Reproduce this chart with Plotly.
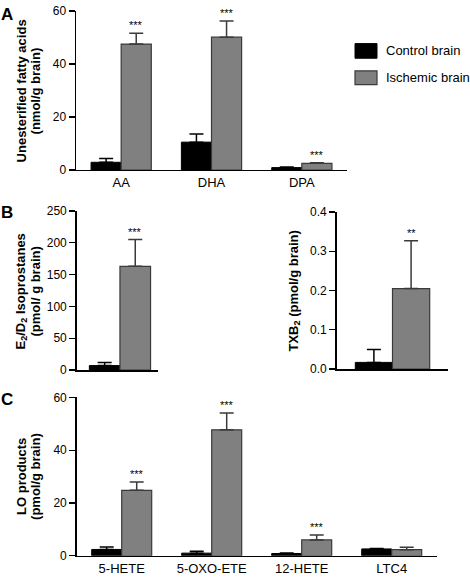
import plotly.graph_objects as go

W, H = 470, 582
FONT = "Liberation Sans, Arial, Helvetica, sans-serif"

# ---- data ----
fa_cats = ["AA", "DHA", "DPA"]
fa_control = [2.9, 10.5, 0.9]
fa_control_err = [1.4, 3.1, 0.2]
fa_isch = [47.5, 50.1, 2.5]
fa_isch_err = [4.1, 6.1, 0.2]
fa_sig = ["***", "***", "***"]

iso_cats = ["E2/D2"]
iso_control = [7.0]
iso_control_err = [5.0]
iso_isch = [163.0]
iso_isch_err = [42.0]
iso_sig = ["***"]

txb_cats = ["TXB2"]
txb_control = [0.017]
txb_control_err = [0.033]
txb_isch = [0.205]
txb_isch_err = [0.122]
txb_sig = ["**"]

lo_cats = ["5-HETE", "5-OXO-ETE", "12-HETE", "LTC4"]
lo_control = [2.4, 1.0, 0.85, 2.6]
lo_control_err = [0.9, 0.7, 0.2, 0.2]
lo_isch = [24.8, 47.7, 6.0, 2.3]
lo_isch_err = [3.1, 6.4, 1.9, 0.9]
lo_sig = ["***", "***", "***", ""]

CTRL_COLOR = "#000000"
ISCH_COLOR = "#808080"
ISCH_EDGE = "#3a3a3a"


def px_x(a, b):
    return [a / W, b / W]


def px_y(top, bottom):
    return [1 - bottom / H, 1 - top / H]


fig = go.Figure()


def add_pair(cats, c, ce, i, ie, xa, ya, offsets=None):
    kw_c, kw_i = {}, {}
    if offsets:
        kw_c = dict(offset=offsets[0], width=offsets[1])
        kw_i = dict(offset=offsets[2], width=offsets[3])
    fig.add_trace(go.Bar(
        x=cats, y=c, xaxis=xa, yaxis=ya, showlegend=False, name="Control brain",
        marker=dict(color=CTRL_COLOR, line=dict(color="#000000", width=1)),
        error_y=dict(type="data", array=ce, arrayminus=[0] * len(ce), symmetric=False,
                     color="#000000", thickness=1.5, width=7),
        **kw_c))
    fig.add_trace(go.Bar(
        x=cats, y=i, xaxis=xa, yaxis=ya, showlegend=False, name="Ischemic brain",
        marker=dict(color=ISCH_COLOR, line=dict(color=ISCH_EDGE, width=1.2)),
        error_y=dict(type="data", array=ie, arrayminus=[0] * len(ie), symmetric=False,
                     color=ISCH_EDGE, thickness=1.5, width=7),
        **kw_i))


add_pair(fa_cats, fa_control, fa_control_err, fa_isch, fa_isch_err, "x", "y")
add_pair(iso_cats, iso_control, iso_control_err, iso_isch, iso_isch_err, "x2", "y2",
         offsets=(-0.345, 0.375, 0.03, 0.375))
add_pair(txb_cats, txb_control, txb_control_err, txb_isch, txb_isch_err, "x3", "y3")
add_pair(lo_cats, lo_control, lo_control_err, lo_isch, lo_isch_err, "x4", "y4")

annotations = []


def add_sig(sigs, vals, errs, xref, yref, centers):
    for k, (s, v, e) in enumerate(zip(sigs, vals, errs)):
        if not s:
            continue
        annotations.append(dict(
            text=s, x=centers[k], y=v + e, xref=xref, yref=yref, showarrow=False,
            yanchor="bottom", xanchor="center", yshift=0,
            font=dict(family=FONT, size=11, color="#000000")))


add_sig(fa_sig, fa_isch, fa_isch_err, "x", "y", [k + 1 / 6 for k in range(len(fa_cats))])
add_sig(iso_sig, iso_isch, iso_isch_err, "x2", "y2", [0.03 + 0.375 / 2])
add_sig(txb_sig, txb_isch, txb_isch_err, "x3", "y3", [1 / 6])
add_sig(lo_sig, lo_isch, lo_isch_err, "x4", "y4", [k + 1 / 6 for k in range(len(lo_cats))])


def label(text, xpx, ypx, size=13, angle=0, xanchor="center"):
    annotations.append(dict(
        text=text, x=xpx / W, y=1 - ypx / H, xref="paper", yref="paper",
        showarrow=False, textangle=angle, xanchor=xanchor, yanchor="middle",
        font=dict(family=FONT, size=size, color="#000000")))


# y-axis titles
label("<b>Unesterified fatty acids</b>", 21.5, 86, angle=-90)
label("<b>(nmol/g brain)</b>", 35.5, 86, angle=-90)
label("<b>E<sub>2</sub>/D<sub>2</sub> Isoprostanes</b>", 21.5, 292, angle=-90)
label("<b>(pmol/ g brain)</b>", 35.5, 292, angle=-90)
label("<b>TXB<sub>2</sub> (pmol/g brain)</b>", 293.5, 291, angle=-90)
label("<b>LO products</b>", 21.5, 481, angle=-90)
label("<b>(pmol/g brain)</b>", 35.5, 481, angle=-90)

# panel letters
label("<b>A</b>", -1, 8, size=17, xanchor="left")
label("<b>B</b>", -1, 211, size=17, xanchor="left")
label("<b>C</b>", -1, 402, size=17, xanchor="left")

# legend
label("Control brain", 384, 45, size=13, xanchor="left")
label("Ischemic brain", 384, 72.5, size=13, xanchor="left")
shapes = [
    dict(type="rect", xref="paper", yref="paper", x0=355 / W, x1=377 / W,
         y0=1 - 52.5 / H, y1=1 - 37.5 / H, fillcolor=CTRL_COLOR,
         line=dict(color="#000000", width=1)),
    dict(type="rect", xref="paper", yref="paper", x0=355 / W, x1=377 / W,
         y0=1 - 79.5 / H, y1=1 - 65.5 / H, fillcolor=ISCH_COLOR,
         line=dict(color=ISCH_EDGE, width=1.2)),
]

xcommon = dict(showline=True, linecolor="#000000", linewidth=1.5, ticks="",
               showgrid=False, zeroline=False, type="category",
               tickfont=dict(family=FONT, size=13, color="#000000"), fixedrange=True)
ycommon = dict(showline=True, linecolor="#000000", linewidth=1.5, ticks="outside",
               ticklen=6, tickwidth=1.2, tickcolor="#000000", showgrid=False,
               zeroline=False, tickfont=dict(family=FONT, size=12, color="#000000"),
               fixedrange=True)

fig.update_layout(
    width=W, height=H, margin=dict(l=0, r=0, t=0, b=0),
    paper_bgcolor="white", plot_bgcolor="white",
    barmode="group", bargap=1 / 3, bargroupgap=0,
    showlegend=False,
    font=dict(family=FONT, size=12, color="#000000"),
    xaxis=dict(domain=px_x(76, 347), anchor="y", range=[-0.5, 2.5], **xcommon),
    yaxis=dict(domain=px_y(4, 167), anchor="x", range=[0, 60], dtick=20, **ycommon),
    xaxis2=dict(domain=px_x(76.7, 158.3), anchor="y2", range=[-0.5, 0.5],
                showticklabels=False, **xcommon),
    yaxis2=dict(domain=px_y(209, 372), anchor="x2", range=[0, 250], dtick=50, **ycommon),
    xaxis3=dict(domain=px_x(336.7, 448.3), anchor="y3", range=[-0.5, 0.5],
                showticklabels=False, **xcommon),
    yaxis3=dict(domain=px_y(210, 371), anchor="x3", range=[0, 0.4], dtick=0.1,
                tickformat=".1f", **ycommon),
    xaxis4=dict(domain=px_x(76.7, 436.7), anchor="y4", range=[-0.5, 3.5], **xcommon),
    yaxis4=dict(domain=px_y(400, 562.3), anchor="x4", range=[0, 60], dtick=20, **ycommon),
    annotations=annotations,
    shapes=shapes,
)

fig.write_html(
    "out.html",
    config={"displayModeBar": False, "staticPlot": True},
    post_script="document.body.style.margin='0';document.body.style.overflow='hidden';",
)
